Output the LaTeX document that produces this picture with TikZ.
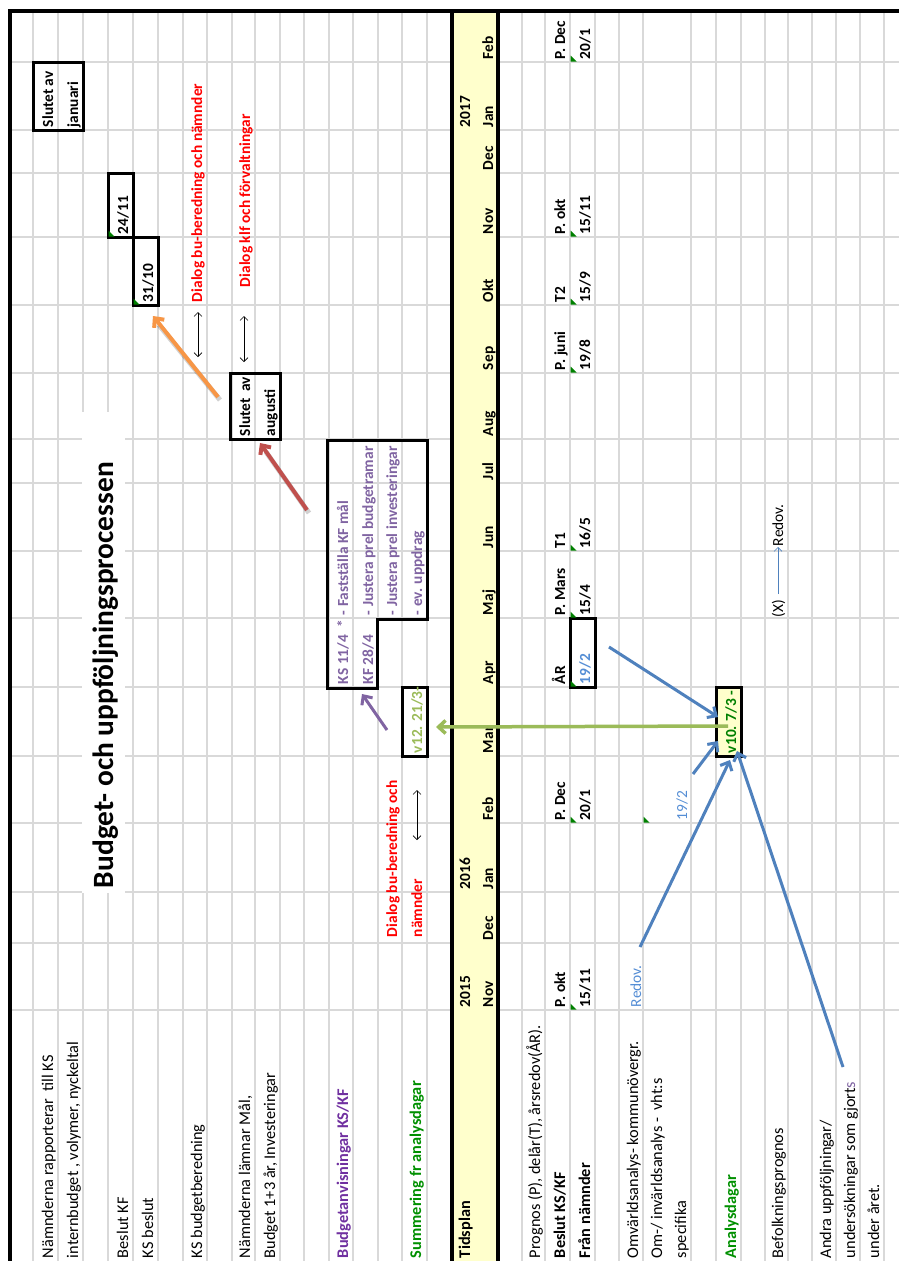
\documentclass[tikz,border=0pt]{standalone}
\usepackage{fontspec}
\setmainfont{Carlito}
\usetikzlibrary{arrows.meta,calc}
\definecolor{gridc}{HTML}{D9D9D9}
\definecolor{hdr}{HTML}{FFFFCC}
\definecolor{purp}{HTML}{7030A0}
\definecolor{lpurp}{HTML}{8064A2}
\definecolor{dgreen}{HTML}{009000}
\definecolor{lgreen}{HTML}{9BBB59}
\definecolor{tblue}{HTML}{558ED5}
\definecolor{ablue}{HTML}{4F81BD}
\definecolor{aorange}{HTML}{F79646}
\definecolor{ared}{HTML}{C0504D}
\definecolor{tgreen}{HTML}{008000}
\definecolor{rtext}{HTML}{FF0000}
\begin{document}
\begin{tikzpicture}[x=1pt,y=-1pt,
  gridline/.style={gridc,line width=1.3pt},
  rt/.style={rotate=90,anchor=base west,inner sep=0pt,outer sep=0pt},
  lab/.style={rt,font=\fontsize{16.3}{18}\selectfont},
  labb/.style={rt,font=\fontsize{16.3}{18}\selectfont\bfseries},
  dat/.style={rt,font=\fontsize{15.4}{17}\selectfont\bfseries},
  datr/.style={rt,font=\fontsize{15.4}{17}\selectfont},
  boxc/.style={draw=black,line width=3pt},
  tri/.style={fill=tgreen,draw=none},
  thinarr/.style={line width=0.6pt,{Straight Barb[length=4pt,width=8pt]}-{Straight Barb[length=4pt,width=8pt]}},
  fatarr/.style={line width=#1,-{Straight Barb[length=7pt,width=13pt]}},
  shadow/.style={black,opacity=0.18,line width=5pt}
]
\useasboundingbox (0,0) rectangle (899,1261);
\fill[white] (0,0) rectangle (899,1261);
% grid
\foreach \x in {33,58,83,108,133,158,183,207,232,255,280,304,329,353,378,402,427,522,545,570,595,619,643,691,716,741,765,788,812,836,860,884}
  \draw[gridline] (\x,10) -- (\x,1261);
\foreach \y in {62,130,173,237,305,373,439,483,551,618,687,756,823,892,943,1010}{
  \draw[gridline] (10,\y) -- (452,\y);
  \draw[gridline] (498,\y) -- (899,\y);}
% title background
\fill[white] (81.5,412) rectangle (124.5,893);
% header band
\fill[hdr] (452,10) rectangle (498,1261);
\draw[line width=3.5pt] (452,11) -- (452,1261);
\draw[line width=3.5pt] (498,11) -- (498,1261);
% outer border
\draw[line width=4pt] (9.5,1261) -- (9.5,11) -- (899,11);

% title
\node[rt,font=\fontsize{29.4}{32}\selectfont\bfseries] (title) at (113,888) {Budget- och uppföljningsprocessen};

% left labels
\node[lab] (l1) at (53,1258) {Nämnderna rapporterar\ \ till KS};
\node[lab] (l2) at (78,1258) {internbudget , volymer, nyckeltal};
\node[lab] (l3) at (128,1258) {Beslut KF};
\node[lab] (l4) at (153,1258) {KS beslut};
\node[lab] (l5) at (202,1258) {KS budgetberedning};
\node[lab] (l6) at (250,1258) {Nämnderna lämnar Mål,};
\node[lab] (l7) at (275,1258) {Budget 1+3 år, Investeringar};
\node[labb,text=purp] (l8) at (348,1258) {Budgetanvisningar KS/KF};
\node[labb,text=dgreen] (l9) at (421,1258) {Summering fr analysdagar};
\node[labb] (l10) at (470,1258) {Tidsplan};
\node[lab] (l11) at (540,1258) {Prognos (P), delår(T), årsredov(ÅR).};
\node[labb] (l12) at (565,1258) {Beslut KS/KF};
\node[labb] (l13) at (590,1258) {Från nämnder};
\node[lab] (l14) at (638,1258) {Omvärldsanalys- kommunövergr.};
\node[lab] (l15) at (662,1258) {Om-/ invärldsanalys -\ \ vht:s};
\node[lab] (l16) at (686,1258) {specifika};
\node[labb,text=dgreen] (l17) at (736,1258) {Analysdagar};
\node[lab] (l18) at (783,1258) {Befolkningsprognos};
\node[lab] (l19) at (831,1258) {Andra uppföljningar/};
\node[lab] (l20) at (855,1258) {undersökningar som gjort\textcolor{lpurp}{s}};
\node[lab] (l21) at (879,1258) {under året.};

% header years and months
\node[dat] (y15) at (470,1007) {2015};
\node[dat] (y16) at (470,889) {2016};
\node[dat] (y17) at (470,127) {2017};
\foreach \yy/\mm [count=\i] in {1010/Nov,943/Dec,892/Jan,823/Feb,756/Mar,687/Apr,618/Maj,551/Jun,483/Jul,439/Aug,373/Sep,305/Okt,237/Nov,173/Dec,130/Jan,62/Feb}
  \node[dat] (m\i) at (493,\yy-3) {\mm};

% Beslut KS/KF row
\foreach \yy/\tt [count=\i] in {1010/{P. okt},823/{P. Dec},687/{ÅR},618/{P. Mars},551/{T1},373/{P. juni},305/{T2},237/{P. okt},62/{P. Dec}}
  \node[dat] (c\i) at (565,\yy-3) {\tt};
% Från nämnder row
\foreach \yy/\tt [count=\i] in {1010/{15/11},823/{20/1},618/{15/4},551/{16/5},373/{19/8},305/{15/9},237/{15/11},62/{20/1}}
  \node[dat] (d\i) at (590,\yy-3) {\tt};

% boxes
\node[boxc,minimum width=50pt,minimum height=68pt,inner sep=0pt] (janbox) at (58,96) {};
\node[boxc,minimum width=25pt,minimum height=64pt,inner sep=0pt] (b2411) at (120.5,205) {};
\node[boxc,minimum width=25pt,minimum height=68pt,inner sep=0pt] (b3110) at (145.5,271) {};
\node[boxc,minimum width=50pt,minimum height=66pt,inner sep=0pt] (augbox) at (255,406) {};
\node[boxc,minimum width=25pt,minimum height=69pt,inner sep=0pt] (v12box) at (414.5,721.5) {};
\node[boxc,minimum width=25pt,minimum height=69pt,inner sep=0pt] (b192) at (582.5,652.5) {};
\node[boxc,fill=hdr,minimum width=25pt,minimum height=69pt,inner sep=0pt] (v10box) at (728.5,721.5) {};
\draw[line width=3pt] (327,440) -- (427,440) -- (427,619) -- (377,619) -- (377,688) -- (327,688) -- cycle;

% green corner triangles
\foreach \xx/\yy in {570/1010,570/823,570/687,570/618,570/551,570/373,570/305,570/237,570/62,108/237,133/305,643/823}
  \fill[tri] (\xx+0.5,\yy-0.5) -- (\xx+6.5,\yy-0.5) -- (\xx+0.5,\yy-6.5) -- cycle;

% box texts
\node[dat] (tj1) at (53,127) {Slutet av};
\node[dat] (tj2) at (78,127) {januari};
\node[dat] (t2411) at (128,234) {24/11};
\node[dat] (t3110) at (153,302) {31/10};
\node[dat] (ta1) at (250,436) {Slutet\ \ av};
\node[dat] (ta2) at (275,436) {augusti};
\node[dat,text=tblue] (t192) at (590,684) {19/2};

% red dialog texts
\node[dat,text=rtext] (r1) at (202,302) {Dialog bu-beredning och nämnder};
\node[dat,text=rtext] (r2) at (250,287) {Dialog klf och förvaltningar};
\node[dat,text=rtext] (r3) at (397,937) {Dialog bu-beredning och};
\node[dat,text=rtext] (r4) at (422,937) {nämnder};

% KS/KF box texts
\node[dat,text=lpurp] (k1) at (348,684) {KS 11/4\ \ *};
\node[dat,text=lpurp] (k2) at (348,615) {- Fastställa KF mål};
\node[dat,text=lpurp] (k3) at (373,684) {KF 28/4};
\node[dat,text=lpurp] (k4) at (373,615) {- Justera prel budgetramar};
\node[dat,text=lpurp] (k5) at (397,615) {- Justera prel investeringar};
\node[dat,text=lpurp] (k6) at (422,615) {- ev. uppdrag};

% analysis texts
\node[dat,text=lgreen] (v12) at (422,753) {v12. 21/3-};
\node[dat,text=tgreen] (v10) at (736,753) {v10. 7/3 -};
\node[datr,text=tblue] (red1) at (641,1007) {Redov.};
\node[datr,text=tblue] (t192b) at (687,820) {19/2};
\node[datr] (xx) at (783,617) {(X)};
\node[datr] (red2) at (783,546) {Redov.};

% thin double arrows
\coordinate (da1) at (198,312); \coordinate (da2) at (198,357);
\coordinate (db1) at (244,316); \coordinate (db2) at (244,362);
\coordinate (dc1) at (417,790); \coordinate (dc2) at (417,840);
\draw[thinarr] (da1) -- (da2);
\draw[thinarr] (db1) -- (db2);
\draw[thinarr] (dc1) -- (dc2);
\coordinate (xa1) at (778,594); \coordinate (xa2) at (778,547);
\draw[ablue,line width=0.6pt,-{Straight Barb[length=4pt,width=8pt]}] (xa1) -- (xa2);

% orange and red arrows
\coordinate (o1) at (218,397); \coordinate (o2) at (153,316);
\coordinate (q1) at (307,510); \coordinate (q2) at (260,443);
\draw[shadow] ($(o1)+(2,3)$) -- ($(o2)+(6,9)$);
\draw[aorange,fatarr=4pt] (o1) -- (o2);
\draw[shadow] ($(q1)+(2,3)$) -- ($(q2)+(6,9)$);
\draw[ared,fatarr=4pt] (q1) -- (q2);

% purple arrow
\coordinate (p1) at (387,730); \coordinate (p2) at (362,694);
\draw[lpurp,fatarr=3pt] (p1) -- (p2);

% green arrow
\coordinate (g1) at (728,726); \coordinate (g2) at (436,727);
\draw[lgreen,fatarr=3.5pt] (g1) -- (g2);

% blue arrows
\coordinate (u1) at (609,647); \coordinate (u2) at (718,717);
\coordinate (w1) at (693,774); \coordinate (w2) at (718,741);
\coordinate (z1) at (640,947); \coordinate (z2) at (730,760);
\coordinate (s1) at (843,1067); \coordinate (s2) at (737,751);
\draw[ablue,fatarr=3pt] (u1) -- (u2);
\draw[ablue,fatarr=3pt] (w1) -- (w2);
\draw[ablue,fatarr=3pt] (z1) -- (z2);
\draw[ablue,fatarr=3pt] (s1) -- (s2);
\end{tikzpicture}
\end{document}
